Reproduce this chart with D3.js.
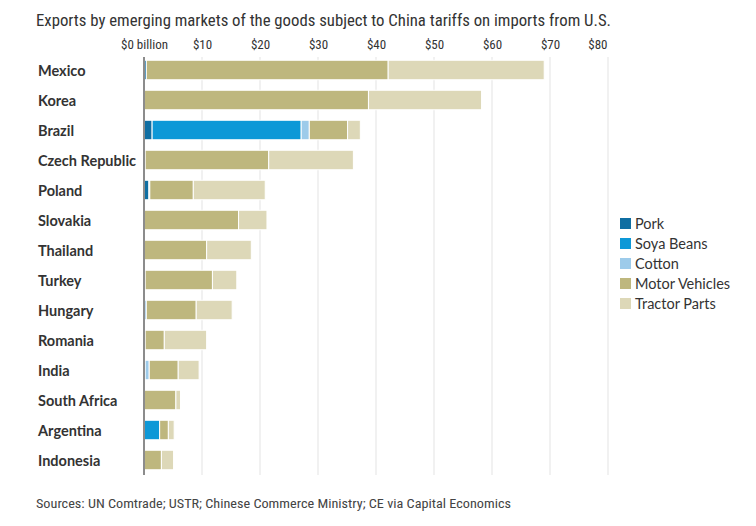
<!DOCTYPE html>
<html>
<head>
<meta charset="utf-8">
<script src="https://cdn.jsdelivr.net/npm/d3@7"></script>
<style>
  html, body { margin: 0; padding: 0; background: #fff; }
  svg { display: block; }
</style>
</head>
<body>
<svg id="chart" width="756" height="526"></svg>
<script>
const countries = ["Mexico", "Korea", "Brazil", "Czech Republic", "Poland", "Slovakia", "Thailand",
  "Turkey", "Hungary", "Romania", "India", "South Africa", "Argentina", "Indonesia"];
const seriesNames = ["Pork", "Soya Beans", "Cotton", "Motor Vehicles", "Tractor Parts"];
const pork    = [0.4, 0, 1.4, 0, 0.85, 0, 0, 0, 0, 0, 0.2, 0, 0, 0];
const soya    = [0, 0, 25.7, 0, 0, 0, 0, 0, 0, 0, 0, 0, 2.7, 0];
const cotton  = [0, 0, 1.4, 0.2, 0.15, 0, 0, 0.2, 0.4, 0.2, 0.7, 0, 0, 0];
const motor   = [41.7, 38.7, 6.6, 21.3, 7.5, 16.3, 10.8, 11.6, 8.6, 3.3, 5.0, 5.5, 1.5, 3.0];
const tractor = [26.9, 19.5, 2.2, 14.6, 12.4, 4.9, 7.7, 4.2, 6.2, 7.3, 3.6, 0.8, 1.0, 2.1];
const tickValues = [0, 10, 20, 30, 40, 50, 60, 70, 80];
const tickLabels = ["$0 billion", "$10", "$20", "$30", "$40", "$50", "$60", "$70", "$80"];
const colors = ["#0f6ea2", "#0d98d7", "#9dcbea", "#beb77e", "#ddd8b8"];

const seriesValues = [pork, soya, cotton, motor, tractor];
const rows = countries.map((c, i) => {
  const o = { country: c };
  seriesNames.forEach((s, j) => o[s] = seriesValues[j][i]);
  return o;
});

const svg = d3.select("#chart");
const narrow = "'Liberation Sans Narrow', 'Roboto Condensed', 'Open Sans', sans-serif";

const x = d3.scaleLinear().domain([0, 80]).range([144, 608]);
const y = d3.scaleBand().domain(countries).range([55, 475]).paddingInner(0.35).paddingOuter(0.175);
const color = d3.scaleOrdinal().domain(seriesNames).range(colors);

// Title
svg.append("text")
  .attr("x", 36).attr("y", 26)
  .attr("font-family", narrow).attr("font-size", 16).attr("fill", "#333")
  .attr("textLength", 575).attr("lengthAdjust", "spacingAndGlyphs")
  .text("Exports by emerging markets of the goods subject to China tariffs on imports from U.S.");

// Gridlines
svg.append("g").selectAll("line")
  .data(tickValues.slice(1))
  .join("line")
  .attr("x1", d => x(d)).attr("x2", d => x(d))
  .attr("y1", 57).attr("y2", 475)
  .attr("stroke", "#ececec").attr("stroke-width", 1.5);

// Top axis labels
const axis = d3.axisTop(x).tickValues(tickValues).tickSize(0).tickPadding(0)
  .tickFormat((d, i) => tickLabels[i]);
const gAxis = svg.append("g").attr("transform", "translate(0,49)").call(axis);
gAxis.select(".domain").remove();
gAxis.selectAll("text")
  .attr("font-family", narrow).attr("font-size", 13).attr("fill", "#333")
  .attr("dy", 0)
  .attr("text-anchor", (d, i) => i === tickValues.length - 1 ? "end" : "middle")
  .attr("x", (d, i) => i === tickValues.length - 1 ? -1 : 0);

// Stacked bars
const stack = d3.stack().keys(seriesNames);
const stacked = stack(rows);
svg.append("g").selectAll("g")
  .data(stacked)
  .join("g")
  .attr("fill", d => color(d.key))
  .selectAll("rect")
  .data(d => d.filter(p => p[1] - p[0] > 0))
  .join("rect")
  .attr("x", d => x(d[0]))
  .attr("width", d => Math.max(0, x(d[1]) - x(d[0])))
  .attr("y", d => y(d.data.country))
  .attr("height", y.bandwidth())
  .attr("stroke", "#fff").attr("stroke-width", 1);

// Zero axis line
svg.append("line")
  .attr("x1", x(0)).attr("x2", x(0))
  .attr("y1", 57).attr("y2", 475)
  .attr("stroke", "#8c8c8c").attr("stroke-width", 2);

// Country labels
svg.append("g").selectAll("text")
  .data(countries)
  .join("text")
  .attr("x", 38)
  .attr("y", d => y(d) + y.bandwidth() / 2 + 6)
  .attr("font-family", "Lato, 'Open Sans', sans-serif")
  .attr("font-weight", 700).attr("font-size", 14.5).attr("fill", "#333")
  .text(d => d);

// Legend
const legend = svg.append("g").attr("transform", "translate(620,218)");
const li = legend.selectAll("g").data(seriesNames).join("g")
  .attr("transform", (d, i) => `translate(0,${i * 20})`);
li.append("rect").attr("width", 11).attr("height", 11).attr("fill", d => color(d));
li.append("text").attr("x", 15).attr("y", 11)
  .attr("font-family", "Lato, 'Open Sans', sans-serif").attr("font-size", 14.5).attr("fill", "#333")
  .text(d => d);

// Source
svg.append("text")
  .attr("x", 36).attr("y", 508)
  .attr("font-family", narrow).attr("font-size", 13).attr("fill", "#444")
  .attr("textLength", 475).attr("lengthAdjust", "spacingAndGlyphs")
  .text("Sources: UN Comtrade; USTR; Chinese Commerce Ministry; CE via Capital Economics");
</script>
</body>
</html>
